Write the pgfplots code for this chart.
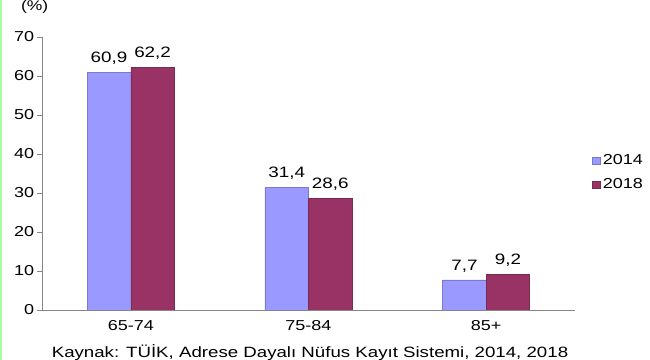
\documentclass[border=0pt]{standalone}
\usepackage{pgfplots}
\pgfplotsset{compat=1.18}
\usepackage{fontspec}
\setmainfont{Liberation Sans}[FakeStretch=1.25]
\definecolor{cblue}{HTML}{9999FF}
\definecolor{cred}{HTML}{993366}
\definecolor{cax}{HTML}{868686}
\begin{document}
\begin{tikzpicture}
\useasboundingbox[fill=white] (0,0) rectangle (487.5pt,270pt);
\fill[green!35!white] (0,0) rectangle (1.5pt,270pt);
\begin{axis}[
  at={(31.5pt,37.5pt)}, anchor=south west,
  scale only axis, width=399.75pt, height=204.75pt,
  ybar=0pt, bar width=0.245,
  xmin=-0.5, xmax=2.5, ymin=0, ymax=70,
  ytick={0,10,...,70},
  xtick={0,1,2}, xticklabels={65-74,75-84,85+},
  major x tick style={draw=none},
  extra x ticks={0.5,1.5,2.5}, extra x tick labels={},
  extra x tick style={major tick length=4pt, tick style={draw=cax}},
  tick align=outside, major tick length=3.5pt,
  axis lines*=left, axis line style={draw=cax, -},
  tick style={draw=cax},
  every tick label/.append style={font=\fontsize{10.8}{12}\selectfont, black},
  xticklabel style={yshift=-1pt},
  yticklabel style={xshift=1.2pt},
  /pgf/number format/assume math mode=true,
  nodes near coords,
  nodes near coords style={font=\fontsize{11.3}{12}\selectfont, black, yshift=2.5pt,
    /pgf/number format/.cd, fixed, precision=1, fixed zerofill, use comma},
  legend style={at={(1.032,0.504)}, anchor=west, draw=none, fill=none,
    font=\fontsize{10.8}{12}\selectfont, row sep=5pt, inner sep=0pt},
  legend cell align=left,
  legend image code/.code={\fill[#1] (0pt,-2.6pt) rectangle (5.6pt,2.6pt);},
]
\addplot[fill=cblue, draw=cblue!80!black, line width=0.3pt] coordinates {(0,60.9) (1,31.4) (2,7.7)};
\addplot[fill=cred, draw=cred!80!black, line width=0.3pt] coordinates {(0,62.2) (1,28.6) (2,9.2)};
\legend{2014,2018}
\end{axis}
\node[font=\fontsize{10.5}{12}\selectfont] at (26pt,264.5pt) {(\%)};
\node[font=\fontsize{11.2}{12}\selectfont] at (232.5pt,5.5pt) {Kaynak: TÜİK, Adrese Dayalı Nüfus Kayıt Sistemi, 2014, 2018};
\end{tikzpicture}
\end{document}
